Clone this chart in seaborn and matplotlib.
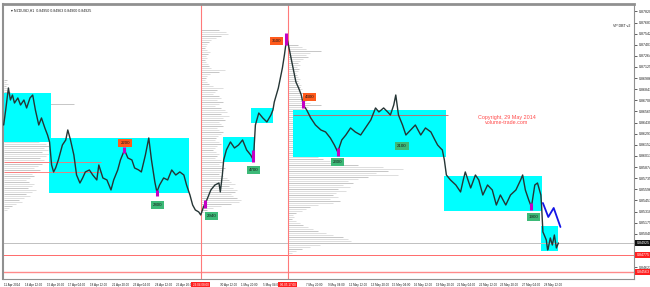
import numpy as np
import matplotlib
matplotlib.use("Agg")
import matplotlib.pyplot as plt
import seaborn as sns
from matplotlib.patches import Rectangle
from matplotlib.transforms import blended_transform_factory

# ---------------- data ----------------
bars = [0,3,7,10,13,16,21,25,30,34,39,43,47,52,56,61,65,68,71,74,
        77,81,87,92,95,99,104,108,113,117,121,127,132,138,141,147,153,159,163,169,
        173,179,184,190,194,200,204,210,215,219,224,227,231,237,243,249,255,261,267,271,
        276,280,284,289,292,296,301,307,313,319,321,324,326,330,336,342,348,354,360,366,
        370,373,378,384,390,396,399,401,404,407,410,413,416,418,419,421,424,427,430,433,
        437,441,444,449,455,462,470,477,484,490,495,501,507,514,521,529,536,544,551,556,
        563,569,573,578,581,585,591,596,603,610,618,625,633,639,643,647,650,653,656,662,
        670,677,681,684,692,699,704,710,717,724,730,736,744,751,759,766,769,773,778,782,
        787,791,796,797,799,801,804,806,807,810,813,816,819,822]
close = [0.86400,0.86588,0.86863,0.86713,0.86775,0.86675,0.86738,0.86650,0.86713,0.86613,
         0.86738,0.86775,0.86588,0.86400,0.86488,0.86363,0.86275,0.86188,0.85900,0.85813,
         0.85863,0.85963,0.86150,0.86213,0.86338,0.86213,0.86025,0.85775,0.85675,0.85738,
         0.85813,0.85838,0.85775,0.85713,0.85900,0.85738,0.85713,0.85588,0.85713,0.85838,
         0.85963,0.86088,0.85988,0.85963,0.85863,0.85838,0.85813,0.86025,0.86238,0.85963,
         0.85688,0.85563,0.85650,0.85738,0.85713,0.85838,0.85775,0.85813,0.85775,0.85650,
         0.85525,0.85400,0.85338,0.85313,0.85275,0.85375,0.85463,0.85588,0.85650,0.85675,
         0.85563,0.85775,0.85963,0.86088,0.86188,0.86113,0.86150,0.86213,0.86088,0.86025,
         0.85963,0.86400,0.86550,0.86488,0.86438,0.86525,0.86588,0.86688,0.86775,0.86863,
         0.86988,0.87113,0.87275,0.87400,0.87513,0.87438,0.87313,0.87188,0.87063,0.86938,
         0.86863,0.86775,0.86650,0.86588,0.86488,0.86400,0.86338,0.86313,0.86238,0.86150,
         0.86063,0.86213,0.86275,0.86363,0.86313,0.86275,0.86363,0.86463,0.86613,0.86563,
         0.86613,0.86563,0.86525,0.86650,0.86775,0.86525,0.86400,0.86275,0.86338,0.86400,
         0.86275,0.86363,0.86313,0.86213,0.86150,0.86113,0.86088,0.85963,0.85775,0.85713,
         0.85650,0.85563,0.85713,0.85813,0.85613,0.85775,0.85713,0.85525,0.85650,0.85588,
         0.85400,0.85525,0.85400,0.85525,0.85588,0.85713,0.85775,0.85588,0.85463,0.85375,
         0.85650,0.85675,0.85525,0.85400,0.85063,0.85025,0.84963,0.84838,0.84863,0.84988,
         0.84900,0.85025,0.84863,0.84925]

tick_bars = [0,32,64,96,128,160,192,224,256,288,320,352,384,416,448,480,512,544,576,608,
             640,672,704,736,768,800]
tick_labels = ["11 Apr 2014","14 Apr 12:00","15 Apr 20:00","17 Apr 04:00","18 Apr 12:00",
               "21 Apr 20:00","23 Apr 04:00","24 Apr 12:00","25 Apr 20:00","29 Apr 04:00",
               "30 Apr 12:00","1 May 20:00","5 May 04:00","6 May 12:00","7 May 20:00",
               "9 May 04:00","12 May 12:00","13 May 20:00","15 May 04:00","16 May 12:00",
               "19 May 20:00","21 May 04:00","22 May 12:00","23 May 20:00","27 May 04:00",
               "28 May 12:00"]
price_ticks = [0.87820,0.87681,0.87542,0.87403,0.87264,0.87125,0.86986,0.86847,0.86708,
               0.86569,0.86430,0.86291,0.86152,0.86013,0.85874,0.85735,0.85596,0.85457,
               0.85318,0.85179,0.85040,0.84901,0.84762,0.84623]

# balance zones (cyan boxes)
box_start = [0, 67, 325, 366, 428, 653, 796]
box_end   = [70, 274, 373, 399, 655, 797, 822]
box_low   = [0.86188, 0.85550, 0.85938, 0.86425, 0.86000, 0.85325, 0.84825]
box_high  = [0.86800, 0.86238, 0.86250, 0.86613, 0.86588, 0.85763, 0.85138]

# volume profiles
prof_anchor = [0, 292, 421]
prof_top = [0.86963, 0.87588, 0.87400]
prof_step = 0.00025
prof1_vol = [3,2,4,2,5,3,6,10,14,18,22,30,70,25,28,32,26,30,35,28,24,30,26,33,38,30,28,34,40,36,
             30,35,42,45,40,44,38,46,42,36,40,44,38,34,30,36,32,28,30,26,22,25,30,28,24,32,28,22,
             26,20,15,18,12,8,5,3]
prof2_vol = [18,25,27,20,15,10,8,6,5,4,6,9,7,5,6,4,5,7,8,10,24,18,9,6,5,4,6,8,12,22,16,14,12,
             18,20,16,22,18,14,20,24,26,20,28,22,24,18,20,22,16,18,22,20,17,15,14,18,20,16,14,
             12,15,18,16,14,20,22,18,20,24,22,20,18,22,26,28,30,34,28,32,36,34,30,32,36,40,38,
             30,20,12,6,3]
prof3_vol = [10,14,18,33,22,18,20,15,12,10,12,9,11,10,8,9,10,12,10,11,13,12,14,12,15,13,16,
             14,18,22,33,20,16,30,35,40,38,42,45,40,48,44,50,46,52,48,55,50,45,48,52,46,40,44,
             38,36,30,35,42,48,70,95,115,100,88,110,80,70,60,65,55,62,50,58,48,45,50,42,52,45,
             30,22,18,14,8,5,6,4,8,12,15,20,25,30,38,45,55,60,63,45,32,22,14,8,4]

# labelled extremes
lab_text  = ["2200", "3500", "4300", "2800", "2940", "4700", "2300", "2100", "1900"]
lab_bar   = [180, 404, 453, 228, 308, 370, 495, 590, 785]
lab_price = [0.86175, 0.87450, 0.86750, 0.85400, 0.85263, 0.85838, 0.85938, 0.86138, 0.85250]
lab_kind  = ["high", "high", "high", "low", "low", "low", "low", "low", "low"]

# highlighted candles
mag_bar  = [179, 227, 298, 370, 419, 444, 495, 782]
mag_low  = [0.86050, 0.85513, 0.85363, 0.85938, 0.87400, 0.86613, 0.86013, 0.85338]
mag_high = [0.86125, 0.85588, 0.85463, 0.86088, 0.87550, 0.86713, 0.86113, 0.85425]

# projection
proj_bar = [799, 807, 815, 825]
proj_price = [0.85425, 0.85250, 0.85363, 0.85125]

# level lines
bid_price = 0.84925
red_level = 0.84775
low_level = 0.84563
vline_bars = [292, 421]
vline_labels = ["29.04 08:00", "06.05 17:00"]

# ---------------- style ----------------
sns.set_style("white")
plt.rcParams['font.family'] = ['Liberation Sans', 'DejaVu Sans']

W, H = 650, 287
fig = plt.figure(figsize=(W / 100, H / 100), dpi=100)
fig.patch.set_facecolor("white")
ax = fig.add_axes([3 / W, 1 - 279 / H, 631 / W, 275 / H])
ax.set_xlim(-1, 934)
ax.set_ylim(0.84475, 0.879125)

PX_TO_BARS = 1.4815

# volume profiles (thin horizontal lines, under the boxes)
for anchor, top, vols in zip(prof_anchor, prof_top, [prof1_vol, prof2_vol, prof3_vol]):
    levels = top - np.arange(len(vols)) * prof_step
    ends = anchor + np.array(vols) * PX_TO_BARS
    cols = ["#dddddd" if i % 3 else "#c6c6c6" for i in range(len(vols))]
    ax.hlines(levels, anchor, ends, colors=cols, lw=0.7, zorder=1)

# cyan boxes
for s, e, lo, hi in zip(box_start, box_end, box_low, box_high):
    ax.add_patch(Rectangle((s, lo), e - s, hi - lo, facecolor="#00ffff",
                           edgecolor="none", zorder=2))

# horizontal level lines
ax.axhline(bid_price, color="#c0c0c0", lw=0.7, zorder=2.5)
ax.axhline(red_level, color="#ff6a6a", lw=0.7, zorder=2.5)
ax.axhline(low_level, color="#ff8a8a", lw=1.0, zorder=2.5)
ax.hlines([0.85938, 0.85813], 0, 144, color="#ff7070", lw=0.6, zorder=2.5)
ax.hlines([0.86525], 428, 659, color="#d06060", lw=0.6, zorder=2.6)

# vertical lines
for vb in vline_bars:
    ax.axvline(vb, color="#ff7a7a", lw=0.8, zorder=2.5)

# price line
sns.lineplot(x=bars, y=close, ax=ax, color="#253535", linewidth=1.0, zorder=4,
             estimator=None, sort=False)

# projection
sns.lineplot(x=proj_bar, y=proj_price, ax=ax, color="#1414e6", linewidth=1.3, zorder=4,
             estimator=None, sort=False)

# highlighted candles
ax.vlines(mag_bar, mag_low, mag_high, color="#c400c4", lw=2.2, zorder=5)

# labels
for t, b, p, k in zip(lab_text, lab_bar, lab_price, lab_kind):
    fc = "#ff5a1c" if k == "high" else "#3dba78"
    ax.text(b, p, t, fontsize=3.2, color="#1a1a1a", ha="center", va="center", zorder=6,
            bbox=dict(boxstyle="square,pad=0.45", fc=fc, ec="none"))

# copyright
ax.text(745, 0.86500, "Copyright, 29 May 2014", color="#ff4a4a", fontsize=3.9,
        ha="center", va="center", zorder=6)
ax.text(745, 0.86425, "volume-trade.com", color="#ff4a4a", fontsize=3.9,
        ha="center", va="center", zorder=6)

# top-left caption and indicator name
ax.text(0.012, 0.985, "\u25BE NZDUSD,H1  0.84950 0.84963 0.84900 0.84925", transform=ax.transAxes,
        fontsize=2.6, color="#202020", ha="left", va="top", zorder=6)
ax.text(0.995, 0.92, "VP DBT v2", transform=ax.transAxes, fontsize=2.6,
        color="#202020", ha="right", va="center", zorder=6)

# axes & ticks (labels hidden under the highlight boxes are left blank)
ax.yaxis.tick_right()
ax.set_yticks(price_ticks)
ax.set_yticklabels(["" if min(abs(v - q) for q in (bid_price, red_level, low_level)) < 0.0006
                    else f"{v:.5f}" for v in price_ticks])
ax.set_xticks(tick_bars)
ax.set_xticklabels(["" if min(abs(b - v) for v in vline_bars) < 20 else l
                    for b, l in zip(tick_bars, tick_labels)], ha="left")
ax.tick_params(axis="y", labelsize=2.6, length=2, width=0.5, pad=1.2, colors="#202020")
ax.tick_params(axis="x", labelsize=2.2, length=2, width=0.5, pad=1.0, colors="#202020")
for side in ["left", "top", "right", "bottom"]:
    ax.spines[side].set_color("#909090")
    ax.spines[side].set_linewidth(0.8)
ax.spines["top"].set_linewidth(2.0)
ax.spines["left"].set_linewidth(1.5)
ax.set_xlabel("")
ax.set_ylabel("")

# right price boxes
tr = blended_transform_factory(ax.transAxes, ax.transData)
for p, fc in [(bid_price, "#101010"), (red_level, "#ff2020"), (low_level, "#ff2020")]:
    ax.text(1.004, p, f"{p:.5f}", transform=tr, fontsize=2.6, color="white",
            ha="left", va="center", zorder=10, clip_on=False,
            bbox=dict(boxstyle="square,pad=0.35", fc=fc, ec="none"))

# date highlights on x axis
trx = blended_transform_factory(ax.transData, ax.transAxes)
for vb, lbl in zip(vline_bars, vline_labels):
    ax.text(vb, -0.022, lbl, transform=trx, fontsize=2.2, color="white",
            ha="center", va="center", zorder=10, clip_on=False,
            bbox=dict(boxstyle="square,pad=0.5", fc="#ff2020", ec="none"))

fig.savefig("out.png", dpi=100, facecolor="white")
